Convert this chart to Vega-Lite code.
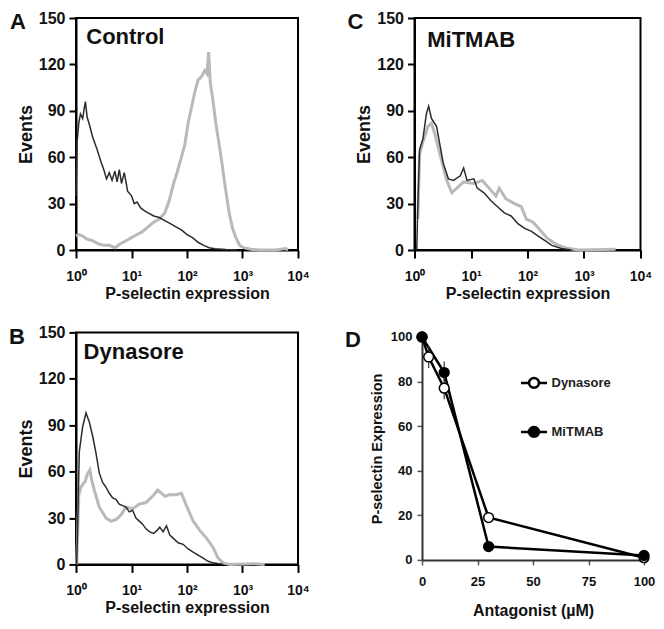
{
  "$schema": "https://vega.github.io/schema/vega-lite/v6.json",
  "background": "white",
  "padding": {"left": 8, "top": 9, "right": 5, "bottom": 5},
  "config": {
    "font": "Liberation Sans",
    "axis": {"labelFont": "Liberation Sans", "titleFont": "Liberation Sans", "labelFontWeight": "bold", "titleFontWeight": "bold", "labelColor": "#111", "titleColor": "#111", "grid": false},
    "view": {"stroke": null},
    "title": {"font": "Liberation Sans", "fontWeight": "bold", "fontSize": 22, "color": "#111", "anchor": "start", "frame": "group", "offset": 0}
  },
  "datasets": {
    "hist": [
      {"panel":"A","series":"stained","expression":1.0,"events":9},{"panel":"A","series":"stained","expression":1.122,"events":10},{"panel":"A","series":"stained","expression":1.318,"events":9},{"panel":"A","series":"stained","expression":1.585,"events":7},{"panel":"A","series":"stained","expression":1.995,"events":6},{"panel":"A","series":"stained","expression":2.512,"events":4},{"panel":"A","series":"stained","expression":3.162,"events":3},{"panel":"A","series":"stained","expression":3.981,"events":3},{"panel":"A","series":"stained","expression":5.012,"events":1.5},{"panel":"A","series":"stained","expression":6.31,"events":4},{"panel":"A","series":"stained","expression":7.943,"events":6},{"panel":"A","series":"stained","expression":10,"events":8},{"panel":"A","series":"stained","expression":12.59,"events":10},{"panel":"A","series":"stained","expression":15.85,"events":12},{"panel":"A","series":"stained","expression":19.95,"events":15},{"panel":"A","series":"stained","expression":25.12,"events":18},{"panel":"A","series":"stained","expression":31.62,"events":20},{"panel":"A","series":"stained","expression":39.81,"events":24},{"panel":"A","series":"stained","expression":47.86,"events":32},{"panel":"A","series":"stained","expression":56.23,"events":42},{"panel":"A","series":"stained","expression":66.07,"events":50},{"panel":"A","series":"stained","expression":79.43,"events":60},{"panel":"A","series":"stained","expression":91.2,"events":68},{"panel":"A","series":"stained","expression":104.7,"events":82},{"panel":"A","series":"stained","expression":120.2,"events":92},{"panel":"A","series":"stained","expression":138,"events":102},{"panel":"A","series":"stained","expression":158.5,"events":110},{"panel":"A","series":"stained","expression":182,"events":112},{"panel":"A","series":"stained","expression":208.9,"events":116},{"panel":"A","series":"stained","expression":229.1,"events":114},{"panel":"A","series":"stained","expression":245.5,"events":128},{"panel":"A","series":"stained","expression":263,"events":108},{"panel":"A","series":"stained","expression":295,"events":96},{"panel":"A","series":"stained","expression":331,"events":82},{"panel":"A","series":"stained","expression":380,"events":68},{"panel":"A","series":"stained","expression":426.6,"events":56},{"panel":"A","series":"stained","expression":501,"events":38},{"panel":"A","series":"stained","expression":575,"events":24},{"panel":"A","series":"stained","expression":660.7,"events":14},{"panel":"A","series":"stained","expression":758.6,"events":8},{"panel":"A","series":"stained","expression":891,"events":3},{"panel":"A","series":"stained","expression":1047,"events":1.5},{"panel":"A","series":"stained","expression":1413,"events":0.5},{"panel":"A","series":"stained","expression":1995,"events":0},{"panel":"A","series":"stained","expression":3981,"events":0},{"panel":"A","series":"stained","expression":6026,"events":1},{"panel":"A","series":"stained","expression":6607,"events":0},
      {"panel":"A","series":"control","expression":1.0,"events":35},{"panel":"A","series":"control","expression":1.047,"events":70},{"panel":"A","series":"control","expression":1.122,"events":82},{"panel":"A","series":"control","expression":1.202,"events":88},{"panel":"A","series":"control","expression":1.318,"events":85},{"panel":"A","series":"control","expression":1.413,"events":92},{"panel":"A","series":"control","expression":1.479,"events":96},{"panel":"A","series":"control","expression":1.585,"events":86},{"panel":"A","series":"control","expression":1.778,"events":80},{"panel":"A","series":"control","expression":1.995,"events":73},{"panel":"A","series":"control","expression":2.399,"events":65},{"panel":"A","series":"control","expression":2.818,"events":57},{"panel":"A","series":"control","expression":3.162,"events":52},{"panel":"A","series":"control","expression":3.548,"events":46},{"panel":"A","series":"control","expression":3.981,"events":50},{"panel":"A","series":"control","expression":4.467,"events":45},{"panel":"A","series":"control","expression":5.012,"events":51},{"panel":"A","series":"control","expression":5.495,"events":44},{"panel":"A","series":"control","expression":6.026,"events":52},{"panel":"A","series":"control","expression":6.607,"events":43},{"panel":"A","series":"control","expression":7.413,"events":50},{"panel":"A","series":"control","expression":8.511,"events":38},{"panel":"A","series":"control","expression":10,"events":35},{"panel":"A","series":"control","expression":11.22,"events":30},{"panel":"A","series":"control","expression":12.59,"events":31},{"panel":"A","series":"control","expression":14.79,"events":27},{"panel":"A","series":"control","expression":17.78,"events":25},{"panel":"A","series":"control","expression":19.95,"events":24},{"panel":"A","series":"control","expression":25.12,"events":22},{"panel":"A","series":"control","expression":31.62,"events":21},{"panel":"A","series":"control","expression":39.81,"events":19},{"panel":"A","series":"control","expression":50.12,"events":17},{"panel":"A","series":"control","expression":63.1,"events":15},{"panel":"A","series":"control","expression":79.43,"events":13},{"panel":"A","series":"control","expression":100,"events":10},{"panel":"A","series":"control","expression":125.9,"events":8},{"panel":"A","series":"control","expression":158.5,"events":5},{"panel":"A","series":"control","expression":199.5,"events":3},{"panel":"A","series":"control","expression":251.2,"events":1.5},{"panel":"A","series":"control","expression":316.2,"events":0.8},{"panel":"A","series":"control","expression":501.2,"events":0.3},{"panel":"A","series":"control","expression":794.3,"events":0},
      {"panel":"B","series":"stained","expression":1.028,"events":0},{"panel":"B","series":"stained","expression":1.072,"events":20},{"panel":"B","series":"stained","expression":1.122,"events":45},{"panel":"B","series":"stained","expression":1.23,"events":50},{"panel":"B","series":"stained","expression":1.349,"events":52},{"panel":"B","series":"stained","expression":1.479,"events":54},{"panel":"B","series":"stained","expression":1.585,"events":58},{"panel":"B","series":"stained","expression":1.778,"events":61},{"panel":"B","series":"stained","expression":1.905,"events":55},{"panel":"B","series":"stained","expression":2.138,"events":48},{"panel":"B","series":"stained","expression":2.63,"events":37},{"panel":"B","series":"stained","expression":3.467,"events":30},{"panel":"B","series":"stained","expression":4.266,"events":28},{"panel":"B","series":"stained","expression":5.248,"events":29},{"panel":"B","series":"stained","expression":6.457,"events":32},{"panel":"B","series":"stained","expression":7.943,"events":37},{"panel":"B","series":"stained","expression":10.47,"events":36},{"panel":"B","series":"stained","expression":13.8,"events":39},{"panel":"B","series":"stained","expression":18.2,"events":40},{"panel":"B","series":"stained","expression":23.99,"events":44},{"panel":"B","series":"stained","expression":29.51,"events":48},{"panel":"B","series":"stained","expression":34.67,"events":46},{"panel":"B","series":"stained","expression":39.81,"events":44},{"panel":"B","series":"stained","expression":47.86,"events":45},{"panel":"B","series":"stained","expression":63.1,"events":45},{"panel":"B","series":"stained","expression":79.43,"events":46},{"panel":"B","series":"stained","expression":97.72,"events":38},{"panel":"B","series":"stained","expression":128.8,"events":28},{"panel":"B","series":"stained","expression":169.8,"events":22},{"panel":"B","series":"stained","expression":223.9,"events":17},{"panel":"B","series":"stained","expression":295.1,"events":11},{"panel":"B","series":"stained","expression":363.1,"events":4},{"panel":"B","series":"stained","expression":446.7,"events":1},{"panel":"B","series":"stained","expression":588.8,"events":0},{"panel":"B","series":"stained","expression":1585,"events":0.5},{"panel":"B","series":"stained","expression":2512,"events":0},
      {"panel":"B","series":"control","expression":1.028,"events":0},{"panel":"B","series":"control","expression":1.086,"events":35},{"panel":"B","series":"control","expression":1.148,"events":73},{"panel":"B","series":"control","expression":1.318,"events":89},{"panel":"B","series":"control","expression":1.514,"events":98},{"panel":"B","series":"control","expression":1.622,"events":95},{"panel":"B","series":"control","expression":1.738,"events":92},{"panel":"B","series":"control","expression":1.995,"events":83},{"panel":"B","series":"control","expression":2.291,"events":72},{"panel":"B","series":"control","expression":2.63,"events":59},{"panel":"B","series":"control","expression":3.02,"events":53},{"panel":"B","series":"control","expression":3.467,"events":50},{"panel":"B","series":"control","expression":3.981,"events":46},{"panel":"B","series":"control","expression":4.571,"events":43},{"panel":"B","series":"control","expression":5.248,"events":42},{"panel":"B","series":"control","expression":6.026,"events":39},{"panel":"B","series":"control","expression":6.918,"events":38},{"panel":"B","series":"control","expression":7.943,"events":37},{"panel":"B","series":"control","expression":9.12,"events":34},{"panel":"B","series":"control","expression":10.47,"events":35},{"panel":"B","series":"control","expression":12.02,"events":30},{"panel":"B","series":"control","expression":13.8,"events":28},{"panel":"B","series":"control","expression":15.85,"events":26},{"panel":"B","series":"control","expression":18.2,"events":23},{"panel":"B","series":"control","expression":21.38,"events":21},{"panel":"B","series":"control","expression":25.12,"events":20},{"panel":"B","series":"control","expression":28.84,"events":22},{"panel":"B","series":"control","expression":32.36,"events":24},{"panel":"B","series":"control","expression":37.15,"events":21},{"panel":"B","series":"control","expression":42.66,"events":25},{"panel":"B","series":"control","expression":48.98,"events":19},{"panel":"B","series":"control","expression":56.23,"events":17},{"panel":"B","series":"control","expression":69.18,"events":14},{"panel":"B","series":"control","expression":85.11,"events":13},{"panel":"B","series":"control","expression":104.7,"events":10},{"panel":"B","series":"control","expression":128.8,"events":8},{"panel":"B","series":"control","expression":158.5,"events":6},{"panel":"B","series":"control","expression":195,"events":4},{"panel":"B","series":"control","expression":240,"events":2},{"panel":"B","series":"control","expression":295,"events":1},{"panel":"B","series":"control","expression":446.7,"events":0},
      {"panel":"C","series":"stained","expression":1.148,"events":20},{"panel":"C","series":"stained","expression":1.23,"events":62},{"panel":"C","series":"stained","expression":1.413,"events":70},{"panel":"C","series":"stained","expression":1.738,"events":80},{"panel":"C","series":"stained","expression":1.995,"events":82},{"panel":"C","series":"stained","expression":2.291,"events":75},{"panel":"C","series":"stained","expression":2.818,"events":62},{"panel":"C","series":"stained","expression":3.715,"events":45},{"panel":"C","series":"stained","expression":4.571,"events":37},{"panel":"C","series":"stained","expression":5.623,"events":40},{"panel":"C","series":"stained","expression":7.413,"events":44},{"panel":"C","series":"stained","expression":11.22,"events":43},{"panel":"C","series":"stained","expression":15.85,"events":45},{"panel":"C","series":"stained","expression":20.89,"events":40},{"panel":"C","series":"stained","expression":27.54,"events":35},{"panel":"C","series":"stained","expression":31.62,"events":40},{"panel":"C","series":"stained","expression":41.69,"events":33},{"panel":"C","series":"stained","expression":58.88,"events":30},{"panel":"C","series":"stained","expression":77.62,"events":28},{"panel":"C","series":"stained","expression":95.5,"events":20},{"panel":"C","series":"stained","expression":125.9,"events":18},{"panel":"C","series":"stained","expression":166,"events":13},{"panel":"C","series":"stained","expression":218.8,"events":8},{"panel":"C","series":"stained","expression":309,"events":4},{"panel":"C","series":"stained","expression":457,"events":1.5},{"panel":"C","series":"stained","expression":794,"events":0},{"panel":"C","series":"stained","expression":3631,"events":0.5},
      {"panel":"C","series":"control","expression":1.096,"events":0},{"panel":"C","series":"control","expression":1.148,"events":30},{"panel":"C","series":"control","expression":1.23,"events":65},{"panel":"C","series":"control","expression":1.413,"events":72},{"panel":"C","series":"control","expression":1.622,"events":88},{"panel":"C","series":"control","expression":1.778,"events":93},{"panel":"C","series":"control","expression":1.995,"events":85},{"panel":"C","series":"control","expression":2.455,"events":80},{"panel":"C","series":"control","expression":2.818,"events":68},{"panel":"C","series":"control","expression":3.236,"events":56},{"panel":"C","series":"control","expression":3.981,"events":46},{"panel":"C","series":"control","expression":4.898,"events":45},{"panel":"C","series":"control","expression":6.457,"events":48},{"panel":"C","series":"control","expression":7.413,"events":53},{"panel":"C","series":"control","expression":8.511,"events":45},{"panel":"C","series":"control","expression":11.22,"events":46},{"panel":"C","series":"control","expression":12.88,"events":40},{"panel":"C","series":"control","expression":16.98,"events":37},{"panel":"C","series":"control","expression":22.39,"events":32},{"panel":"C","series":"control","expression":29.51,"events":28},{"panel":"C","series":"control","expression":38.9,"events":24},{"panel":"C","series":"control","expression":51.29,"events":22},{"panel":"C","series":"control","expression":67.61,"events":17},{"panel":"C","series":"control","expression":89.13,"events":14},{"panel":"C","series":"control","expression":117.5,"events":12},{"panel":"C","series":"control","expression":154.9,"events":9},{"panel":"C","series":"control","expression":204.2,"events":6},{"panel":"C","series":"control","expression":269.2,"events":3},{"panel":"C","series":"control","expression":398,"events":1},{"panel":"C","series":"control","expression":602.6,"events":0}
    ],
    "labels": [
      {"panel":"A","label":"Control"},{"panel":"B","label":"Dynasore"},{"panel":"C","label":"MiTMAB"}
    ],
    "dose": [
      {"agent":"Dynasore","conc":0,"expr":100},{"agent":"Dynasore","conc":3,"expr":91,"lo":86,"hi":96},{"agent":"Dynasore","conc":10,"expr":77,"lo":72,"hi":82},{"agent":"Dynasore","conc":30,"expr":19},{"agent":"Dynasore","conc":100,"expr":1},
      {"agent":"MiTMAB","conc":0,"expr":100},{"agent":"MiTMAB","conc":10,"expr":84,"lo":80,"hi":89},{"agent":"MiTMAB","conc":30,"expr":6},{"agent":"MiTMAB","conc":100,"expr":2}
    ]
  },
  "spacing": 21.4,
  "vconcat": [
    {
      "spacing": 116.5,
      "bounds": "flush",
      "hconcat": [
        {
          "width": 222, "height": 232,
          "title": {"text": "A", "dx": -66, "dy": 27.7},
          "view": {"stroke": "black", "strokeWidth": 2},
          "layer": [
            {"data": {"name": "hist"}, "transform": [{"filter": "datum.panel == 'A' && datum.series == 'stained'"}],
             "mark": {"type": "line", "color": "#b9b9b9", "strokeWidth": 3},
             "encoding": {
               "x": {"field": "expression", "type": "quantitative", "scale": {"type": "log", "domain": [1, 10000], "nice": false}, "axis": {"title": "P-selectin expression", "values": [1, 10, 100, 1000, 10000], "labelExpr": "datum.value == 1 ? '10⁰' : datum.value == 10 ? '10¹' : datum.value == 100 ? '10²' : datum.value == 1000 ? '10³' : '10⁴'", "labelFontSize": 14, "titleFontSize": 16, "domainColor": "black", "domainWidth": 2, "tickColor": "black", "tickWidth": 2, "tickSize": 8, "labelPadding": 11, "titlePadding": 2, "labelFlush": false, "labelOverlap": false}},
               "y": {"field": "events", "type": "quantitative", "scale": {"domain": [0, 150], "nice": false}, "axis": {"title": "Events", "values": [0, 30, 60, 90, 120, 150], "labelFontSize": 16, "titleFontSize": 18, "domainColor": "black", "domainWidth": 2, "tickColor": "black", "tickWidth": 2, "tickSize": 7, "labelPadding": 4, "titlePadding": 3, "labelFlush": false}}
             }},
            {"data": {"name": "hist"}, "transform": [{"filter": "datum.panel == 'A' && datum.series == 'control'"}],
             "mark": {"type": "line", "color": "#2b2b2b", "strokeWidth": 1.5},
             "encoding": {"x": {"field": "expression", "type": "quantitative"}, "y": {"field": "events", "type": "quantitative"}}},
            {"data": {"name": "labels"}, "transform": [{"filter": "datum.panel == 'A'"}],
             "mark": {"type": "text", "align": "left", "baseline": "alphabetic", "fontSize": 22, "fontWeight": "bold", "font": "Liberation Sans", "color": "#111"},
             "encoding": {"x": {"datum": 1.53}, "y": {"datum": 133}, "text": {"field": "label"}}}
          ]
        },
        {
          "width": 226, "height": 232,
          "title": {"text": "C", "dx": -67, "dy": 27.7},
          "view": {"stroke": "black", "strokeWidth": 2},
          "layer": [
            {"data": {"name": "hist"}, "transform": [{"filter": "datum.panel == 'C' && datum.series == 'stained'"}],
             "mark": {"type": "line", "color": "#b9b9b9", "strokeWidth": 3},
             "encoding": {
               "x": {"field": "expression", "type": "quantitative", "scale": {"type": "log", "domain": [1, 10000], "nice": false}, "axis": {"title": "P-selectin expression", "values": [1, 10, 100, 1000, 10000], "labelExpr": "datum.value == 1 ? '10⁰' : datum.value == 10 ? '10¹' : datum.value == 100 ? '10²' : datum.value == 1000 ? '10³' : '10⁴'", "labelFontSize": 14, "titleFontSize": 16, "domainColor": "black", "domainWidth": 2, "tickColor": "black", "tickWidth": 2, "tickSize": 8, "labelPadding": 11, "titlePadding": 2, "labelFlush": false, "labelOverlap": false}},
               "y": {"field": "events", "type": "quantitative", "scale": {"domain": [0, 150], "nice": false}, "axis": {"title": "Events", "values": [0, 30, 60, 90, 120, 150], "labelFontSize": 16, "titleFontSize": 18, "domainColor": "black", "domainWidth": 2, "tickColor": "black", "tickWidth": 2, "tickSize": 7, "labelPadding": 4, "titlePadding": 3, "labelFlush": false}}
             }},
            {"data": {"name": "hist"}, "transform": [{"filter": "datum.panel == 'C' && datum.series == 'control'"}],
             "mark": {"type": "line", "color": "#2b2b2b", "strokeWidth": 1.5},
             "encoding": {"x": {"field": "expression", "type": "quantitative"}, "y": {"field": "events", "type": "quantitative"}}},
            {"data": {"name": "labels"}, "transform": [{"filter": "datum.panel == 'C'"}],
             "mark": {"type": "text", "align": "left", "baseline": "alphabetic", "fontSize": 22, "fontWeight": "bold", "font": "Liberation Sans", "color": "#111"},
             "encoding": {"x": {"datum": 1.68}, "y": {"datum": 131.5}, "text": {"field": "label"}}}
          ]
        }
      ]
    },
    {
      "spacing": 124,
      "bounds": "flush",
      "center": true,
      "hconcat": [
        {
          "width": 222, "height": 232,
          "title": {"text": "B", "dx": -67, "dy": 29},
          "view": {"stroke": "black", "strokeWidth": 2},
          "layer": [
            {"data": {"name": "hist"}, "transform": [{"filter": "datum.panel == 'B' && datum.series == 'stained'"}],
             "mark": {"type": "line", "color": "#b9b9b9", "strokeWidth": 3},
             "encoding": {
               "x": {"field": "expression", "type": "quantitative", "scale": {"type": "log", "domain": [1, 10000], "nice": false}, "axis": {"title": "P-selectin expression", "values": [1, 10, 100, 1000, 10000], "labelExpr": "datum.value == 1 ? '10⁰' : datum.value == 10 ? '10¹' : datum.value == 100 ? '10²' : datum.value == 1000 ? '10³' : '10⁴'", "labelFontSize": 14, "titleFontSize": 16, "domainColor": "black", "domainWidth": 2, "tickColor": "black", "tickWidth": 2, "tickSize": 8, "labelPadding": 11, "titlePadding": 2, "labelFlush": false, "labelOverlap": false}},
               "y": {"field": "events", "type": "quantitative", "scale": {"domain": [0, 150], "nice": false}, "axis": {"title": "Events", "values": [0, 30, 60, 90, 120, 150], "labelFontSize": 16, "titleFontSize": 18, "domainColor": "black", "domainWidth": 2, "tickColor": "black", "tickWidth": 2, "tickSize": 7, "labelPadding": 4, "titlePadding": 3, "labelFlush": false}}
             }},
            {"data": {"name": "hist"}, "transform": [{"filter": "datum.panel == 'B' && datum.series == 'control'"}],
             "mark": {"type": "line", "color": "#2b2b2b", "strokeWidth": 1.5},
             "encoding": {"x": {"field": "expression", "type": "quantitative"}, "y": {"field": "events", "type": "quantitative"}}},
            {"data": {"name": "labels"}, "transform": [{"filter": "datum.panel == 'B'"}],
             "mark": {"type": "text", "align": "left", "baseline": "alphabetic", "fontSize": 22, "fontWeight": "bold", "font": "Liberation Sans", "color": "#111"},
             "encoding": {"x": {"datum": 1.37}, "y": {"datum": 133}, "text": {"field": "label"}}}
          ]
        },
        {
          "width": 222, "height": 223,
          "title": {"text": "D", "dx": -77, "dy": 27},
          "layer": [
            {"data": {"name": "dose"},
             "mark": {"type": "line", "color": "black", "strokeWidth": 2.5},
             "encoding": {
               "x": {"field": "conc", "type": "quantitative", "scale": {"domain": [0, 100], "nice": false}, "axis": {"title": "Antagonist (µM)", "values": [0, 25, 50, 75, 100], "labelFontSize": 13, "titleFontSize": 16, "domainColor": "#333", "domainWidth": 2, "tickColor": "#555", "tickWidth": 1.5, "tickSize": 5, "labelPadding": 11, "titlePadding": 14, "labelFlush": false}},
               "y": {"field": "expr", "type": "quantitative", "scale": {"domain": [0, 100], "nice": false}, "axis": {"title": "P-selectin Expression", "values": [0, 20, 40, 60, 80, 100], "labelFontSize": 13, "titleFontSize": 14.5, "domainColor": "#333", "domainWidth": 2, "tickColor": "#555", "tickWidth": 1.5, "tickSize": 5, "labelPadding": 5, "titlePadding": 6, "labelFlush": false}},
               "detail": {"field": "agent"}
             }},
            {"data": {"name": "dose"}, "transform": [{"filter": "isValid(datum.lo)"}],
             "mark": {"type": "rule", "color": "#333", "strokeWidth": 1.2},
             "encoding": {"x": {"field": "conc", "type": "quantitative"}, "y": {"field": "lo", "type": "quantitative"}, "y2": {"field": "hi"}}},
            {"data": {"name": "dose"},
             "mark": {"type": "point", "shape": "circle", "filled": true, "stroke": "black", "strokeWidth": 1.5, "size": 95, "opacity": 1},
             "encoding": {
               "x": {"field": "conc", "type": "quantitative"},
               "y": {"field": "expr", "type": "quantitative"},
               "fill": {"field": "agent", "type": "nominal", "scale": {"domain": ["Dynasore", "MiTMAB"], "range": ["white", "black"]},
                 "legend": {"title": null, "orient": "none", "legendX": 443.5, "legendY": 350.4, "symbolType": "M-1,0H-0.38M0.38,0H1M-0.38,0A0.38,0.38,0,1,1,0.38,0A0.38,0.38,0,1,1,-0.38,0Z", "symbolSize": 676, "symbolStrokeColor": "black", "symbolStrokeWidth": 2.5, "symbolOpacity": 1, "labelFont": "Liberation Sans", "labelFontSize": 13, "labelFontWeight": "bold", "labelColor": "#222", "rowPadding": 24, "labelOffset": 3}}
             }}
          ]
        }
      ]
    }
  ]
}
